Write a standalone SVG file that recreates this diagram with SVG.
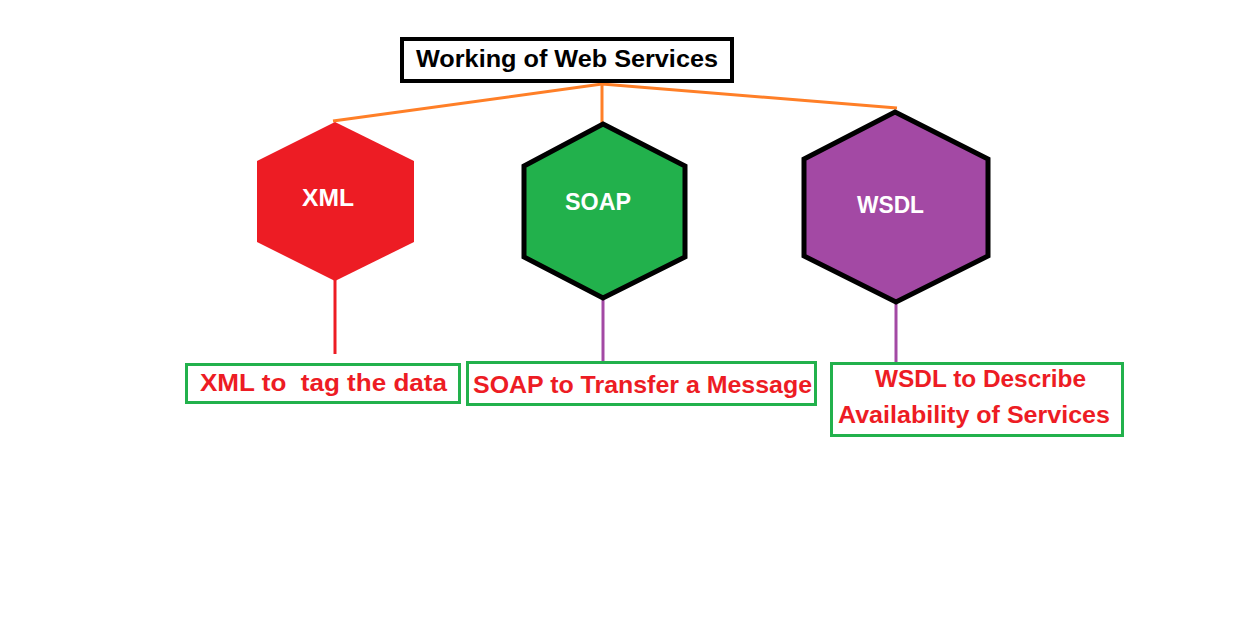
<svg xmlns="http://www.w3.org/2000/svg" width="1237" height="618" viewBox="0 0 1237 618">
<style>
text{font-family:"Liberation Sans",Arial,sans-serif;font-weight:bold;font-size:24px}
.hexlabel{fill:#ffffff}
.desc{fill:#ED1C24;white-space:pre}
.title{fill:#000000}
.box{fill:#ffffff;stroke:#22B14C;stroke-width:3}
.orange{stroke:#FF7F27;stroke-width:3;fill:none}
</style>
<rect width="1237" height="618" fill="#ffffff"/>
<g id="connectors">
<polyline class="orange" points="333,121 602,84 897,108"/>
<line class="orange" x1="602" y1="84" x2="602" y2="123"/>
<line x1="335" y1="280" x2="335" y2="354" stroke="#ED1C24" stroke-width="3"/>
<line x1="603" y1="300" x2="603" y2="361" stroke="#A349A4" stroke-width="3"/>
<line x1="896" y1="304" x2="896" y2="362" stroke="#A349A4" stroke-width="3"/>
</g>
<g id="title">
<rect x="402" y="39" width="330" height="42" fill="#ffffff" stroke="#000000" stroke-width="4"/>
<text class="title" x="416" y="67" textLength="302" lengthAdjust="spacingAndGlyphs">Working of Web Services</text>
</g>
<g id="xml">
<polygon points="335,122 414,161 414,242 335,281 257,242 257,161" fill="#ED1C24"/>
<text class="hexlabel" x="302" y="206" textLength="52" lengthAdjust="spacingAndGlyphs">XML</text>
</g>
<g id="soap">
<polygon points="603,124 685,166 685,257 603,298 524,257 524,166" fill="#22B14C" stroke="#000000" stroke-width="5" stroke-linejoin="miter"/>
<text class="hexlabel" x="565" y="210" textLength="66" lengthAdjust="spacingAndGlyphs">SOAP</text>
</g>
<g id="wsdl">
<polygon points="895,112 988,159 988,256 896,302 804,256 804,159" fill="#A349A4" stroke="#000000" stroke-width="5" stroke-linejoin="miter"/>
<text class="hexlabel" x="857" y="213" textLength="67" lengthAdjust="spacingAndGlyphs">WSDL</text>
</g>
<g id="xml-desc">
<rect class="box" x="186.5" y="364.5" width="273" height="38"/>
<text class="desc" x="200" y="391" textLength="247" lengthAdjust="spacingAndGlyphs">XML to  tag the data</text>
</g>
<g id="soap-desc">
<rect class="box" x="467.5" y="362.5" width="348" height="42"/>
<text class="desc" x="473" y="393" textLength="339" lengthAdjust="spacingAndGlyphs">SOAP to Transfer a Message</text>
</g>
<g id="wsdl-desc">
<rect class="box" x="831.5" y="363.5" width="291" height="72"/>
<text class="desc" x="875" y="387" textLength="211" lengthAdjust="spacingAndGlyphs">WSDL to Describe</text>
<text class="desc" x="838" y="423" textLength="272" lengthAdjust="spacingAndGlyphs">Availability of Services</text>
</g>
</svg>
